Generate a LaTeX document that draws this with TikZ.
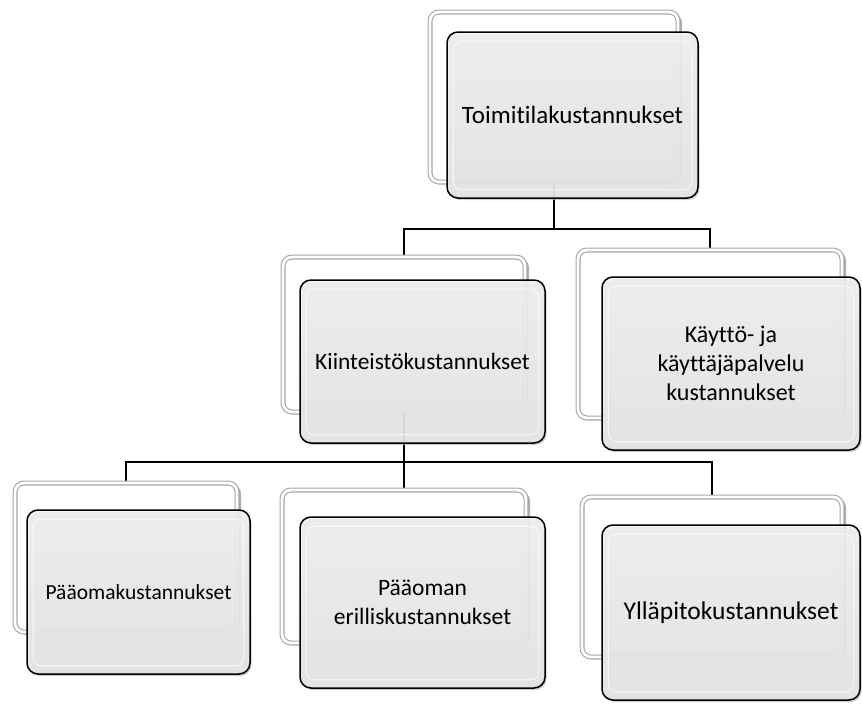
\documentclass[tikz,border=0pt]{standalone}
\usepackage{fontspec}
\setmainfont{Carlito}[Ligatures=NoCommon]
\usetikzlibrary{shadows}
\tikzset{
  conn/.style={draw=black, line width=2.4pt},
  backbox/.style={draw=gray!70, double=white, double distance=2.8pt, line width=1.1pt,
    fill=white, rounded corners=9pt, inner sep=0pt,
    drop shadow={shadow xshift=4pt, shadow yshift=-1.5pt, fill=gray!65, opacity=0.95}},
  frontbox/.style={draw=black, line width=1.5pt, rounded corners=11pt, inner sep=4pt,
    top color=gray!8, bottom color=gray!18, fill opacity=0.82, text opacity=1,
    align=center,
    drop shadow={shadow xshift=1.5pt, shadow yshift=-2pt, fill=gray!55, opacity=0.7}},
  fs/.style={font=\fontsize{#1}{29}\selectfont},
  glass/.style={draw=white, line width=1.2pt, rounded corners=8pt, opacity=0.6}
}
\begin{document}
\begin{tikzpicture}[x=1pt,y=-1pt]
\useasboundingbox (0,0) rectangle (862,704);

\coordinate (topBc) at (554,97);
\coordinate (mlBc) at (404,334.5);
\coordinate (mrBc) at (710,334);
\coordinate (blBc) at (126,557.5);
\coordinate (bmBc) at (404,566.5);
\coordinate (brBc) at (712,577);

% connectors
\coordinate (j1) at (554,229);
\coordinate (j2) at (404,462);
\draw[conn] (topBc) -- (j1);
\draw[conn] (j1) -| (mlBc);
\draw[conn] (j1) -| (mrBc);
\draw[conn] (mlBc) -- (j2);
\draw[conn] (j2) -| (blBc);
\draw[conn] (j2) -- (bmBc);
\draw[conn] (j2) -| (brBc);

% back boxes
\node[backbox, minimum width=248pt, minimum height=170pt] (topB) at (topBc) {};
\node[backbox, minimum width=242pt, minimum height=155pt] (mlB) at (mlBc) {};
\node[backbox, minimum width=264pt, minimum height=168pt] (mrB) at (mrBc) {};
\node[backbox, minimum width=222pt, minimum height=149pt] (blB) at (blBc) {};
\node[backbox, minimum width=244pt, minimum height=153pt] (bmB) at (bmBc) {};
\node[backbox, minimum width=260pt, minimum height=160pt] (brB) at (brBc) {};

% connector stubs seen through the glass fronts
\draw[conn, opacity=0.35] (topB.south) -- ++(0,18);
\draw[conn, opacity=0.35] (mlB.south) -- ++(0,32);

% front boxes
\node[frontbox, fs=25, minimum width=251pt, minimum height=166pt] (topF) at (572.5,115) {Toimitilakustannukset};
\node[frontbox, fs=23.4, minimum width=245pt, minimum height=163pt] (mlF) at (422.5,361.5) {Kiinteistökustannukset};
\node[frontbox, fs=24, minimum width=258pt, minimum height=173pt] (mrF) at (731,363.5) {Käyttö- ja\\käyttäjäpalvelu\\kustannukset};
\node[frontbox, fs=21.5, minimum width=223pt, minimum height=164pt] (blF) at (138.5,592) {Pääomakustannukset};
\node[frontbox, fs=23.5, minimum width=245pt, minimum height=171pt] (bmF) at (422.5,602.5) {Pääoman\\erilliskustannukset};
\node[frontbox, fs=25.5, minimum width=258pt, minimum height=175pt] (brF) at (731,612.5) {Ylläpitokustannukset};

% glass highlights
\foreach \n in {topF,mlF,mrF,blF,bmF,brF}{
  \draw[glass] ([shift={(7pt,-10pt)}]\n.north west) rectangle ([shift={(-7pt,9pt)}]\n.south east);
}
\end{tikzpicture}
\end{document}
